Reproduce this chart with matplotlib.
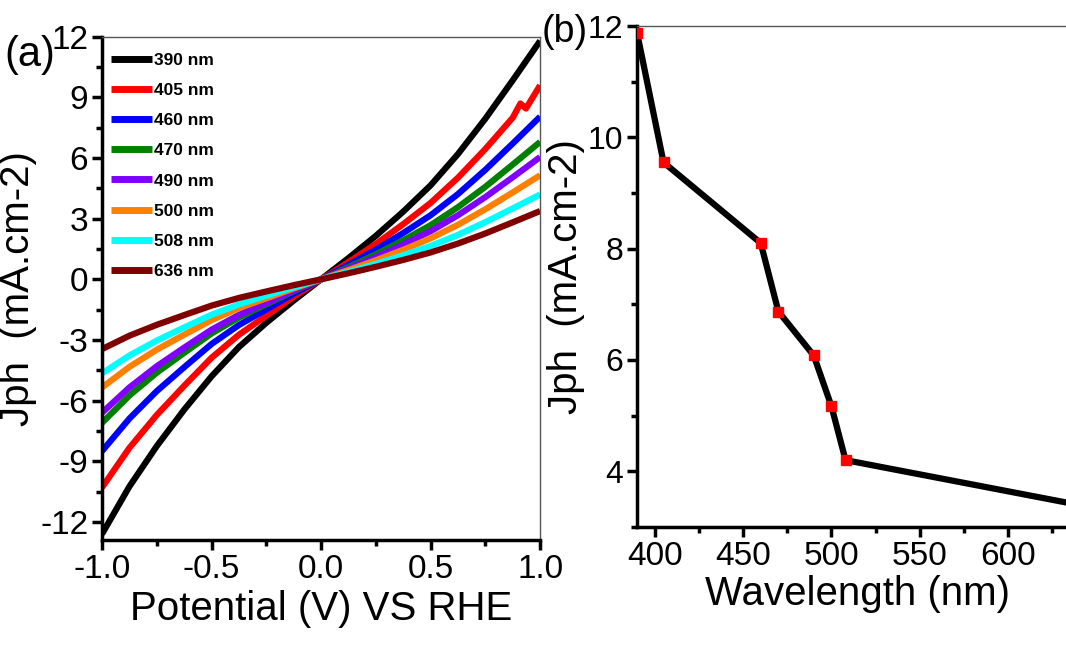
import numpy as np
import matplotlib
matplotlib.use("Agg")
import matplotlib.pyplot as plt
from matplotlib.ticker import MultipleLocator

plt.rcParams['font.family'] = ['Liberation Sans', 'DejaVu Sans']

# (a) J-V curves
potential = [-1.0, -0.875, -0.75, -0.625, -0.5, -0.375, -0.25, -0.125, 0.0,
             0.125, 0.25, 0.375, 0.5, 0.625, 0.75, 0.875, 1.0]
labels = ['390 nm', '405 nm', '460 nm', '470 nm', '490 nm', '500 nm', '508 nm', '636 nm']
colors = ['#000000', '#ff0000', '#0000ff', '#007f00', '#8000ff', '#ff8000', '#00ffff', '#800000']

j390 = [-12.6, -10.25, -8.25, -6.45, -4.8, -3.35, -2.15, -1.05, 0.0,
        1.05, 2.15, 3.35, 4.65, 6.2, 7.95, 9.85, 11.8]
j405 = [-10.3, -8.34, -6.71, -5.27, -3.88, -2.74, -1.80, -0.86, 0.0,
        0.85, 1.75, 2.73, 3.78, 5.03, 6.45, 8.0, 9.6]
j460 = [-8.5, -6.89, -5.53, -4.35, -3.20, -2.26, -1.49, -0.71, 0.0,
        0.72, 1.47, 2.29, 3.17, 4.22, 5.42, 6.72, 8.05]
j470 = [-7.1, -5.75, -4.62, -3.64, -2.68, -1.89, -1.24, -0.59, 0.0,
        0.61, 1.24, 1.93, 2.68, 3.57, 4.58, 5.68, 6.8]
j490 = [-6.6, -5.35, -4.30, -3.38, -2.49, -1.76, -1.16, -0.55, 0.0,
        0.54, 1.10, 1.72, 2.38, 3.17, 4.07, 5.05, 6.05]
j500 = [-5.35, -4.33, -3.48, -2.74, -2.02, -1.42, -0.94, -0.45, 0.0,
        0.46, 0.94, 1.46, 2.03, 2.70, 3.47, 4.30, 5.15]
j508 = [-4.65, -3.77, -3.03, -2.38, -1.75, -1.24, -0.81, -0.39, 0.0,
        0.37, 0.76, 1.19, 1.65, 2.20, 2.83, 3.51, 4.2]
j636 = [-3.45, -2.79, -2.25, -1.77, -1.30, -0.92, -0.60, -0.29, 0.0,
        0.30, 0.62, 0.96, 1.33, 1.77, 2.27, 2.82, 3.38]
# small kink on the 405 nm curve near +0.93 V
kink_v = [0.91, 0.935]
kink_j = [8.7, 8.45]

# (b) Jph at +1 V vs wavelength
wavelength = [390, 405, 460, 470, 490, 500, 508, 636]
jph = [11.88, 9.55, 8.1, 6.87, 6.08, 5.17, 4.2, 3.42]

curves = [j390, j405, j460, j470, j490, j500, j508, j636]

fig = plt.figure(figsize=(10.66, 6.57), dpi=100)
ax1 = fig.add_axes([0.0957, 0.178, 0.411, 0.766])
ax2 = fig.add_axes([0.5976, 0.198, 0.4144, 0.7624])


def style_axes(ax):
    for side in ['left', 'bottom']:
        ax.spines[side].set_linewidth(2.5)
        ax.spines[side].set_color('black')
    for side in ['top', 'right']:
        ax.spines[side].set_linewidth(1.0)
        ax.spines[side].set_color('#555555')
    ax.tick_params(which='major', direction='out', length=7, width=2.5,
                   labelsize=24, top=False, right=False, pad=3)
    ax.tick_params(which='minor', direction='out', length=4, width=2.5,
                   top=False, right=False)


for i, c in enumerate(curves):
    v = list(potential)
    j = list(c)
    if i == 1:
        v = potential[:-1] + kink_v + [1.0]
        j = c[:-1] + kink_j + [c[-1]]
    ax1.plot(v, j, color=colors[i], lw=4.5, label=labels[i], solid_capstyle='butt')

ax1.set_xlim(-1.0, 1.0)
ax1.set_ylim(-12.9, 12.0)
ax1.set_xticks([-1.0, -0.5, 0.0, 0.5, 1.0])
ax1.set_xticklabels(['-1.0', '-0.5', '0.0', '0.5', '1.0'])
ax1.xaxis.set_minor_locator(MultipleLocator(0.25))
ax1.set_yticks([-12, -9, -6, -3, 0, 3, 6, 9, 12])
ax1.set_yticklabels(['-12', '-9', '-6', '-3', '0', '3', '6', '9', '12'])
ax1.yaxis.set_minor_locator(MultipleLocator(1.5))
style_axes(ax1)
ax1.set_xlabel('Potential (V) VS RHE', fontsize=29, labelpad=4)
ax1.set_ylabel('Jph  (mA.cm-2)', fontsize=29, labelpad=2)
leg = ax1.legend(loc='upper left', bbox_to_anchor=(0.0, 0.985), frameon=False,
                 prop={'weight': 'bold', 'size': 12.5}, handlelength=2.4,
                 handletextpad=0.1, labelspacing=0.86, borderaxespad=0.3,
                 borderpad=0.2)
for h in leg.get_lines():
    h.set_linewidth(5)

ax2.plot(wavelength, jph, color='black', lw=4.5, marker='s', ms=7.5,
         mfc='#ff0000', mec='#ff0000', zorder=3)
ax2.set_xlim(390, 640)
ax2.set_ylim(3, 12)
ax2.xaxis.set_major_locator(MultipleLocator(50))
ax2.xaxis.set_minor_locator(MultipleLocator(25))
ax2.yaxis.set_major_locator(MultipleLocator(2))
ax2.yaxis.set_minor_locator(MultipleLocator(1))
style_axes(ax2)
ax2.tick_params(axis='y', which='major', labelsize=23)
ax2.spines['right'].set_visible(False)
ax2.set_xlabel('Wavelength (nm)', fontsize=29, labelpad=2)
ax2.set_ylabel('Jph  (mA.cm-2)', fontsize=29, labelpad=2)

fig.text(0.004, 0.916, '(a)', fontsize=30, va='center')
fig.text(0.508, 0.952, '(b)', fontsize=27, va='center')

fig.savefig('out.png', dpi=100)
